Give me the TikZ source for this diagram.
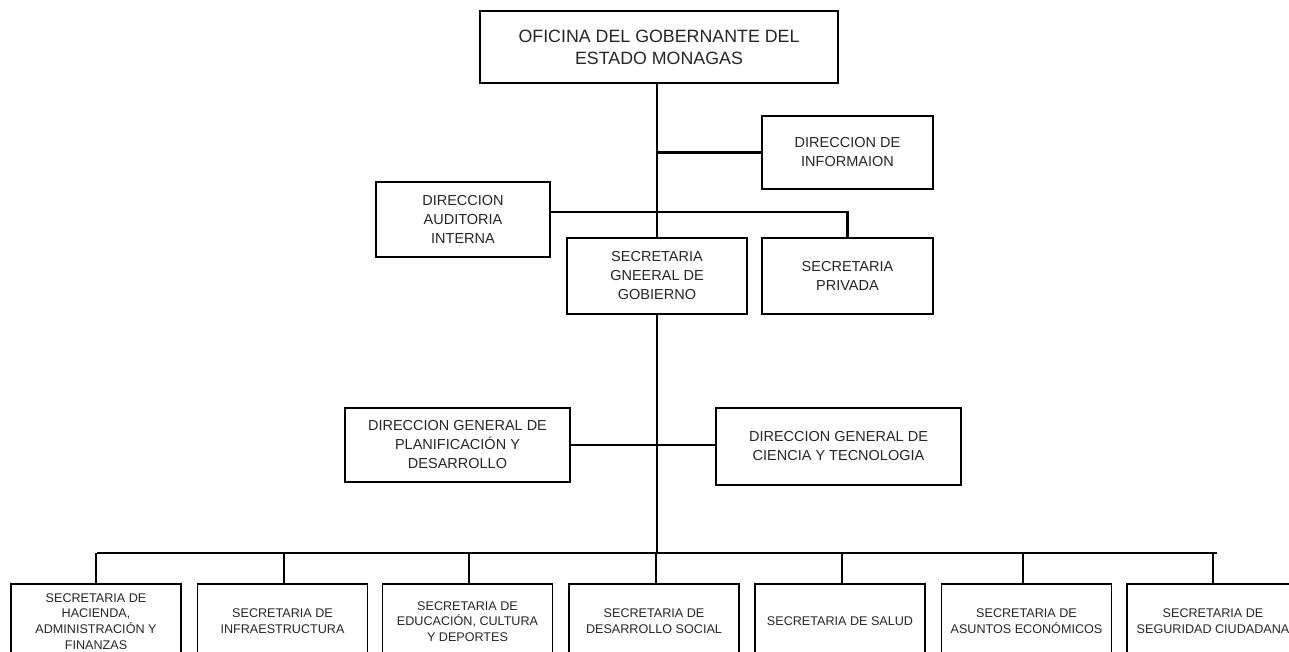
\documentclass[tikz,border=0pt]{standalone}
\usepackage{fontspec}
\setmainfont{Liberation Sans}
\begin{document}
\begin{tikzpicture}[x=1pt,y=-1pt,
  box/.style={draw=black, line width=1.4pt, fill=white, align=center, inner sep=0pt, anchor=center, text=black!85},
  midbox/.style={box, font=\fontsize{14.5}{19}\selectfont},
  lowbox/.style={box, minimum width=170pt, minimum height=75pt, font=\fontsize{12.6}{15.7}\selectfont},
  link/.style={line width=2.8pt, black}]
\useasboundingbox[fill=white] (0,0) rectangle (1289,652);
\begin{scope}
\clip (0,0) rectangle (1289,652);
% top
\node[box, minimum width=358pt, minimum height=72pt, font=\fontsize{17.8}{22}\selectfont] (gob) at (659,47) {OFICINA DEL GOBERNANTE DEL\\ESTADO MONAGAS};
\node[midbox, minimum width=171pt, minimum height=73pt] (info) at (847.5,152.5) {DIRECCION DE\\INFORMAION};
\node[midbox, minimum width=174pt, minimum height=75pt] (audit) at (463,219.5) {DIRECCION\\AUDITORIA\\INTERNA};
\node[midbox, minimum width=180pt, minimum height=76pt] (sg) at (657,276) {SECRETARIA\\GNEERAL DE\\GOBIERNO};
\node[midbox, minimum width=171pt, minimum height=76pt] (priv) at (847.5,276) {SECRETARIA\\PRIVADA};
\node[midbox, minimum width=225pt, minimum height=74pt] (plan) at (457.5,445) {DIRECCION GENERAL DE\\PLANIFICACIÓN Y\\DESARROLLO};
\node[midbox, minimum width=245pt, minimum height=77pt] (cien) at (838.5,446.5) {DIRECCION GENERAL DE\\CIENCIA Y TECNOLOGIA};
% bottom row
\node[lowbox] (b1) at (96,621.5) {SECRETARIA DE\\HACIENDA,\\ADMINISTRACIÓN Y\\FINANZAS};
\node[lowbox] (b2) at (282.5,621.5) {SECRETARIA DE\\INFRAESTRUCTURA};
\node[lowbox] (b3) at (467.5,621.5) {SECRETARIA DE\\EDUCACIÓN, CULTURA\\Y DEPORTES};
\node[lowbox] (b4) at (654,621.5) {SECRETARIA DE\\DESARROLLO SOCIAL};
\node[lowbox] (b5) at (840,621.5) {SECRETARIA DE SALUD};
\node[lowbox] (b6) at (1026.5,621.5) {SECRETARIA DE\\ASUNTOS ECONÓMICOS};
\node[lowbox, minimum width=172pt] (b7) at (1213,621.5) {SECRETARIA DE\\SEGURIDAD CIUDADANA};
% connectors
\coordinate (busL) at (97,553);
\coordinate (busR) at (1217,553);
\draw[link] (sg.north) -- (sg.north |- gob.south);
\draw[link] (info.west) -- (info.west -| sg.north);
\draw[link] ([yshift=7.5pt]audit.east) -| (priv.north);
\draw[link] (plan.east) -- (plan.east -| cien.west);
\draw[link] (sg.south) -- (sg.south |- busL);
\draw[link] (busL) -- (busR);
\draw[link] (b1.north) -- (b1.north |- busL);
\draw[link] ([xshift=1.5pt]b2.north) -- ([xshift=1.5pt]b2.north |- busL);
\draw[link] ([xshift=1.5pt]b3.north) -- ([xshift=1.5pt]b3.north |- busL);
\draw[link] ([xshift=2pt]b4.north) -- ([xshift=2pt]b4.north |- busL);
\draw[link] ([xshift=2pt]b5.north) -- ([xshift=2pt]b5.north |- busL);
\draw[link] ([xshift=-3.5pt]b6.north) -- ([xshift=-3.5pt]b6.north |- busL);
\draw[link] (b7.north) -- (b7.north |- busL);
\end{scope}
\end{tikzpicture}
\end{document}
